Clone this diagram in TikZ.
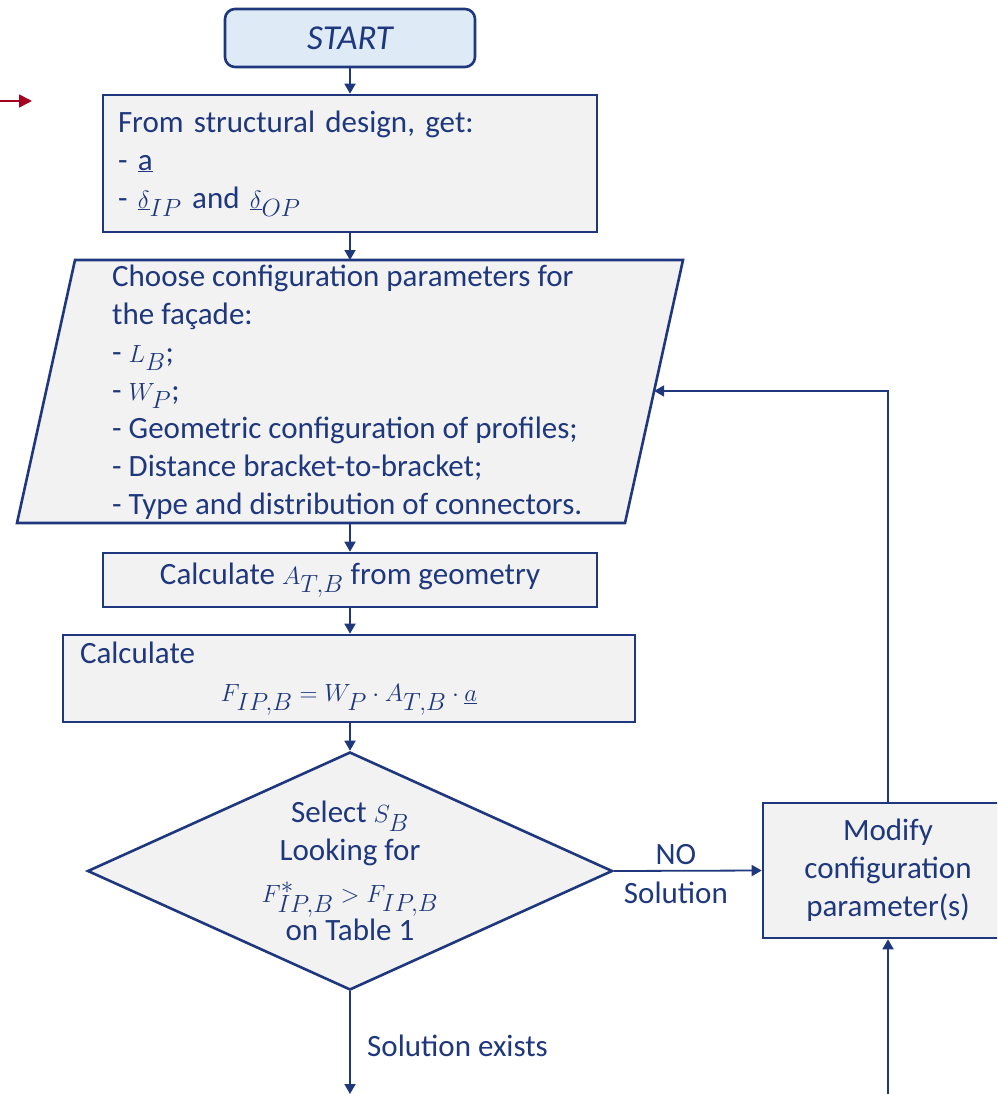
\documentclass[tikz,border=0pt]{standalone}
\usepackage{fontspec}
\setmainfont{Carlito}
\usetikzlibrary{arrows.meta,shapes.geometric,calc}
\definecolor{navy}{RGB}{31,56,125}
\definecolor{boxfill}{RGB}{242,242,242}
\definecolor{startfill}{RGB}{222,235,247}
\definecolor{crimson}{RGB}{165,0,33}
% formulas are set a little larger than the surrounding text
\newcommand{\mth}[1]{{\fontsize{33}{38}\selectfont$#1$}}
\begin{document}
\begin{tikzpicture}[x=1pt,y=-1pt,
  every node/.style={text=navy,font=\fontsize{31}{38}\selectfont},
  box/.style={draw=navy,fill=boxfill,line width=2.6pt,inner ysep=0pt},
  startbox/.style={box,fill=startfill,rounded corners=10pt},
  decision/.style={box,diamond,inner sep=0pt},
  flow/.style={draw=navy,line width=1.8pt,-{Triangle[length=10pt,width=11pt]}},
  lbl/.style={inner sep=0pt}]
\useasboundingbox (0,0) rectangle (997,1094);
\clip (0,0) rectangle (997,1094);

% start terminal
\node[startbox,minimum width=250pt,minimum height=58pt,
      font=\fontsize{35}{38}\selectfont\itshape] (start) at (350,38) {START};

% input data
\node[box,text width=464pt,inner xsep=15pt,align=left,minimum height=137pt]
  (input) at (350,163.5)
  {From structural design, get:\\
   - \underline{a}\\
   - \mth{\underline{\delta}_{IP}} and \mth{\underline{\delta}_{OP}}};

% configuration parameters (parallelogram)
\draw[box] (75,260) -- (683,260) -- (625,523) -- (17,523) -- cycle;
\coordinate (parT) at (350,260);
\coordinate (parB) at (350,523);
\coordinate (parR) at ($(683,260)!0.498!(625,523)$);
\node[lbl,anchor=west,align=left] (config) at (112,392)
  {Choose configuration parameters for\\
   the façade:\\
   - \mth{L_B};\\
   - \mth{W_P};\\
   - Geometric configuration of profiles;\\
   - Distance bracket-to-bracket;\\
   - Type and distribution of connectors.};

% area calculation
\node[box,minimum width=494pt,minimum height=54pt] (area) at (350,580)
  {Calculate \mth{A_{T,B}} from geometry};

% force calculation
\node[box,text width=538pt,inner xsep=17pt,align=left,minimum height=87pt]
  (force) at (349,678.5)
  {Calculate\\
   \makebox[538pt][c]{\mth{F_{IP,B}=W_P\cdot A_{T,B}\cdot\underline{a}}}};

% decision
\node[decision,minimum width=525pt,minimum height=238pt,aspect=2.2,align=center]
  (select) at (350,871)
  {Select \mth{S_B}\\
   Looking for\\[4pt]
   \mth{F^{*}_{IP,B}>F_{IP,B}}\\
   on Table 1};

% modification loop
\node[box,minimum width=250pt,minimum height=135pt,align=center] (modify) at (888,870.5)
  {Modify\\ configuration\\ parameter(s)};

\coordinate (outL) at (350,1094);
\coordinate (inR) at (888,1094);
\coordinate (redA) at (0,101);
\coordinate (redB) at (32,101);

% connectors
\draw[flow] (start.south) -- (input.north);
\draw[flow] (input.south) -- (parT);
\draw[flow] (parB) -- (area.north);
\draw[flow] (area.south) -- (area.south |- force.north);
\draw[flow] (force.south -| select.north) -- (select.north);
\draw[flow] (select.east) -- (modify.west)
  node[lbl,pos=0.42,above=5pt] (no) {NO}
  node[lbl,pos=0.42,below=10pt] (nosol) {Solution};
\draw[flow] (modify.north) |- (parR);
\draw[flow] (inR) -- (modify.south);
\draw[flow] (select.south) -- (outL);
\node[lbl,anchor=west] (exists) at (367,1046) {Solution exists};
\draw[draw=crimson,line width=1.8pt,-{Triangle[length=13pt,width=13pt]}] (redA) -- (redB);
\end{tikzpicture}
\end{document}
